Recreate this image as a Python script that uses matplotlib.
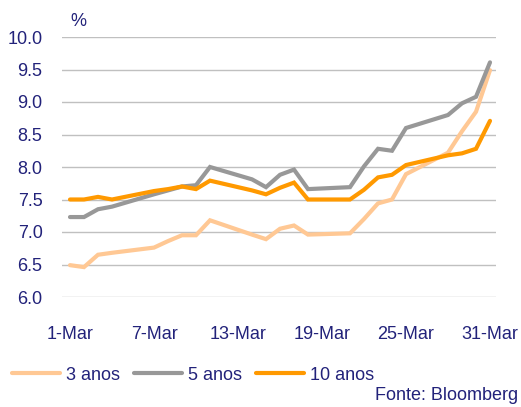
import matplotlib
matplotlib.use("Agg")
import matplotlib.pyplot as plt

# Business days of March (day of month)
days = [1, 2, 3, 4, 7, 8, 9, 10, 11, 14, 15, 16, 17, 18, 21, 22, 23, 24, 25, 28, 29, 30, 31]
y3 = [6.49, 6.46, 6.65, 6.68, 6.76, 6.86, 6.95, 6.95, 7.18, 6.96, 6.89, 7.05, 7.10, 6.96,
      6.98, 7.20, 7.44, 7.50, 7.89, 8.22, 8.55, 8.85, 9.49]
y5 = [7.23, 7.23, 7.35, 7.39, 7.58, 7.64, 7.70, 7.72, 8.00, 7.81, 7.69, 7.88, 7.96, 7.66,
      7.69, 8.01, 8.28, 8.25, 8.60, 8.80, 8.98, 9.08, 9.61]
y10 = [7.50, 7.50, 7.54, 7.50, 7.63, 7.66, 7.70, 7.66, 7.79, 7.64, 7.58, 7.68, 7.76, 7.50,
       7.50, 7.65, 7.84, 7.88, 8.03, 8.18, 8.21, 8.28, 8.71]
series_names = ["3 anos", "5 anos", "10 anos"]
xtick_days = [1, 7, 13, 19, 25, 31]
xtick_labels = ["1-Mar", "7-Mar", "13-Mar", "19-Mar", "25-Mar", "31-Mar"]
yticks = [6.0, 6.5, 7.0, 7.5, 8.0, 8.5, 9.0, 9.5, 10.0]

navy = "#22227a"
fam = ["Liberation Sans Narrow", "Liberation Sans", "DejaVu Sans"]
plt.rcParams["font.family"] = fam

W, H = 521, 407
fig = plt.figure(figsize=(W / 100, H / 100), dpi=100)
ax = fig.add_axes([62 / W, (H - 297) / H, (496 - 62) / W, 260 / H])

colors = ["#ffc894", "#989898", "#ff9900"]
for ys, c, n in zip([y3, y5, y10], colors, series_names):
    ax.plot(days, ys, color=c, lw=3, label=n, solid_capstyle="round", solid_joinstyle="miter")

ax.set_xlim(1 - 8 / 14, 31 + 6 / 14)
ax.set_ylim(6, 10)
ax.set_yticks(yticks)
ax.set_yticklabels([f"{v:.1f}" for v in yticks])
ax.set_xticks(xtick_days)
ax.set_xticklabels(xtick_labels)
ax.grid(axis="y", color="#c0c0c0", lw=1)
ax.set_axisbelow(True)
for s in ax.spines.values():
    s.set_visible(False)
ax.tick_params(axis="both", length=0, labelsize=13, colors=navy)
ax.tick_params(axis="y", pad=14)
ax.tick_params(axis="x", pad=21)

fig.text(78 / W, 1 - 21 / H, "%", color=navy, fontsize=13, ha="center", va="center")

leg = fig.legend(loc="center left", bbox_to_anchor=(12 / W, 1 - 375 / H), ncol=3,
                 frameon=False, fontsize=13, handlelength=2.66, handletextpad=0.35,
                 columnspacing=0.75, borderpad=0, borderaxespad=0)
for t in leg.get_texts():
    t.set_color(navy)

fig.text(518 / W, 1 - 396 / H, "Fonte: Bloomberg", color=navy, fontsize=13, ha="right", va="center")

fig.savefig("out.png", dpi=100)
